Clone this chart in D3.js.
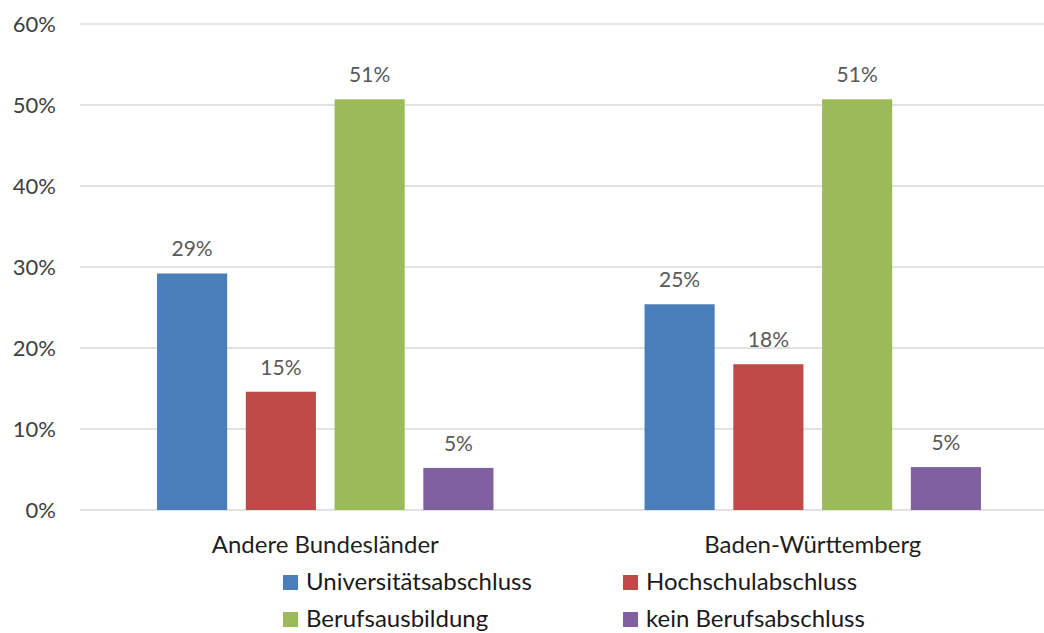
<!DOCTYPE html>
<html><head><meta charset="utf-8">
<script src="https://cdn.jsdelivr.net/npm/d3@7"></script>
<style>
html,body{margin:0;padding:0;background:#fff;}
svg{display:block;font-family:Lato, "Open Sans", sans-serif;}
</style></head>
<body>
<svg id="chart" width="1044" height="633"></svg>
<script>
const categories = ["Andere Bundesländer", "Baden-Württemberg"];
const seriesNames = ["Universitätsabschluss", "Hochschulabschluss", "Berufsausbildung", "kein Berufsabschluss"];
const seriesColors = ["#4A7EBB", "#BE4B48", "#9BBB59", "#7F60A0"];
const universitaet = [0.292, 0.254];
const hochschule = [0.146, 0.180];
const berufsausbildung = [0.507, 0.507];
const keinAbschluss = [0.052, 0.053];
const yTicks = [0, 0.1, 0.2, 0.3, 0.4, 0.5, 0.6];

const seriesValues = [universitaet, hochschule, berufsausbildung, keinAbschluss];

const svg = d3.select("#chart");
const x0 = d3.scaleBand().domain(categories).range([81.5, 1056.5]).paddingInner(0).paddingOuter(0);
const x1 = d3.scaleBand().domain(seriesNames).range([0, x0.bandwidth()]).paddingInner(0.21).paddingOuter(0.851);
const y = d3.scaleLinear().domain([0, 0.6]).range([510, 24]);

// gridlines
svg.append("g").selectAll("line").data(yTicks).join("line")
  .attr("x1", 80).attr("x2", 1044)
  .attr("y1", d => y(d)).attr("y2", d => y(d))
  .attr("stroke", "#d9d9d9").attr("stroke-width", 1.5);

// y axis labels
const yAxis = d3.axisLeft(y).tickValues(yTicks).tickFormat(d3.format(".0%")).tickSize(0).tickPadding(0);
const ga = svg.append("g").attr("transform", "translate(56,0)").call(yAxis);
ga.select(".domain").remove();
ga.selectAll("text").attr("font-family", "Lato, sans-serif").attr("font-size", 22).attr("fill", "#404040").attr("dy", "0.36em");

// bars
const rows = [];
categories.forEach((c, ci) => seriesNames.forEach((s, si) => rows.push({c, s, si, v: seriesValues[si][ci]})));

svg.append("g").selectAll("rect").data(rows).join("rect")
  .attr("x", d => x0(d.c) + x1(d.s))
  .attr("width", x1.bandwidth())
  .attr("y", d => y(d.v))
  .attr("height", d => y(0) - y(d.v))
  .attr("fill", d => seriesColors[d.si]);

// data labels
svg.append("g").selectAll("text").data(rows).join("text")
  .attr("x", d => x0(d.c) + x1(d.s) + x1.bandwidth() / 2)
  .attr("y", d => y(d.v) - 17)
  .attr("text-anchor", "middle")
  .attr("font-size", 21).attr("fill", "#595959")
  .text(d => d3.format(".0%")(d.v));

// x axis labels
const xAxis = d3.axisBottom(x0).tickSize(0).tickPadding(0);
const gx = svg.append("g").attr("transform", "translate(0,553)").call(xAxis);
gx.select(".domain").remove();
gx.selectAll("text").attr("font-family", "Lato, sans-serif").attr("font-size", 24).attr("fill", "#1f1f1f").attr("dy", 0);

// legend
const legendPos = [[283, 590], [623, 590], [283, 627], [623, 627]];
const lg = svg.append("g").selectAll("g").data(seriesNames).join("g")
  .attr("transform", (d, i) => `translate(${legendPos[i][0]},${legendPos[i][1]})`);
lg.append("rect").attr("x", 0).attr("y", -15).attr("width", 15).attr("height", 15)
  .attr("fill", (d, i) => seriesColors[i]);
lg.append("text").attr("x", 23).attr("y", 0).attr("font-size", 24).attr("fill", "#1a1a1a").text(d => d);
</script>
</body></html>
